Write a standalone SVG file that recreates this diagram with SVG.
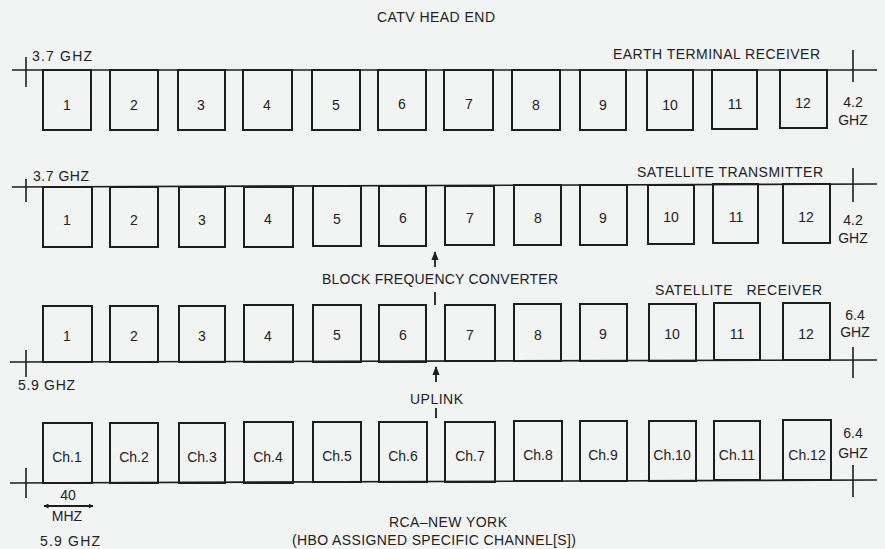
<svg xmlns="http://www.w3.org/2000/svg" width="885" height="549" viewBox="0 0 885 549">
<style>
.bg{fill:#f1f4f2}
.box{fill:none;stroke:#1e1e1e;stroke-width:2}
.ax{stroke:#1e1e1e;stroke-width:1.6;fill:none}
.t{font-family:"Liberation Sans",Arial,sans-serif;font-size:14px;fill:#222}
.c{text-anchor:middle}
.arr{stroke:#1e1e1e;stroke-width:1.8;fill:none}
</style>
<defs>
<marker id="ah" viewBox="0 0 10 10" refX="9" refY="5" markerWidth="5" markerHeight="5" orient="auto-start-reverse" markerUnits="userSpaceOnUse">
<path d="M0,0 L10,5 L0,10 z" fill="#1e1e1e"/>
</marker>
<marker id="ah2" viewBox="0 0 10 10" refX="9" refY="5" markerWidth="9" markerHeight="9" orient="auto-start-reverse" markerUnits="userSpaceOnUse">
<path d="M0,1 L10,5 L0,9 z" fill="#1e1e1e"/>
</marker>
</defs>
<rect class="bg" x="0" y="0" width="885" height="549"/>

<g id="titles">
<text class="t c" x="436" y="22" textLength="118" lengthAdjust="spacing">CATV HEAD END</text>
<text class="t" x="613" y="59" textLength="207" lengthAdjust="spacing">EARTH TERMINAL RECEIVER</text>
<text class="t" x="637" y="177" textLength="186" lengthAdjust="spacing">SATELLITE TRANSMITTER</text>
<text class="t" x="655" y="295" textLength="167" lengthAdjust="spacing" xml:space="preserve">SATELLITE   RECEIVER</text>
<text class="t" x="322" y="284" textLength="236" lengthAdjust="spacing">BLOCK FREQUENCY CONVERTER</text>
<text class="t" x="410" y="404" textLength="53" lengthAdjust="spacing">UPLINK</text>
<text class="t c" x="448" y="527" textLength="118" lengthAdjust="spacing">RCA–NEW YORK</text>
<text class="t c" x="434" y="545" textLength="284" lengthAdjust="spacing">(HBO ASSIGNED SPECIFIC CHANNEL[S])</text>
</g>

<g id="freq-labels">
<text class="t" x="32" y="61" textLength="60" lengthAdjust="spacing">3.7 GHZ</text>
<text class="t" x="33" y="181" textLength="56" lengthAdjust="spacing">3.7 GHZ</text>
<text class="t" x="18" y="390" textLength="57" lengthAdjust="spacing">5.9 GHZ</text>
<text class="t" x="40" y="546" textLength="60" lengthAdjust="spacing">5.9 GHZ</text>
<text class="t c" x="853" y="107">4.2</text>
<text class="t c" x="853" y="125">GHZ</text>
<text class="t c" x="853" y="225">4.2</text>
<text class="t c" x="853" y="243">GHZ</text>
<text class="t c" x="855" y="320">6.4</text>
<text class="t c" x="855" y="337">GHZ</text>
<text class="t c" x="853" y="438">6.4</text>
<text class="t c" x="853" y="458">GHZ</text>
<text class="t c" x="68" y="500">40</text>
<text class="t c" x="67" y="521">MHZ</text>
</g>

<g id="axes">
<line class="ax" x1="12" y1="70" x2="877" y2="70"/>
<line class="ax" x1="26" y1="57" x2="26" y2="87"/>
<line class="ax" x1="853" y1="50" x2="853" y2="82"/>
<line class="ax" x1="12" y1="187" x2="877" y2="184"/>
<line class="ax" x1="26" y1="179" x2="26" y2="202"/>
<line class="ax" x1="853" y1="168" x2="853" y2="202"/>
<line class="ax" x1="10" y1="362" x2="877" y2="360"/>
<line class="ax" x1="26" y1="350" x2="26" y2="377"/>
<line class="ax" x1="853" y1="347" x2="853" y2="378"/>
<line class="ax" x1="10" y1="483" x2="877" y2="480"/>
<line class="ax" x1="26" y1="468" x2="26" y2="498"/>
<line class="ax" x1="853" y1="465" x2="853" y2="497"/>
</g>

<g id="row1">
<g id="r1-1"><rect class="box" x="43" y="70" width="48" height="60"/><text class="t c" x="67" y="110">1</text></g>
<g id="r1-2"><rect class="box" x="110" y="70" width="48" height="60"/><text class="t c" x="134" y="110">2</text></g>
<g id="r1-3"><rect class="box" x="178" y="70" width="47" height="60"/><text class="t c" x="201" y="110">3</text></g>
<g id="r1-4"><rect class="box" x="243" y="70" width="49" height="60"/><text class="t c" x="267" y="110">4</text></g>
<g id="r1-5"><rect class="box" x="312" y="70" width="48" height="60"/><text class="t c" x="336" y="110">5</text></g>
<g id="r1-6"><rect class="box" x="378" y="70" width="48" height="60"/><text class="t c" x="402" y="109">6</text></g>
<g id="r1-7"><rect class="box" x="444" y="70" width="49" height="60"/><text class="t c" x="469" y="109">7</text></g>
<g id="r1-8"><rect class="box" x="512" y="70" width="48" height="60"/><text class="t c" x="536" y="110">8</text></g>
<g id="r1-9"><rect class="box" x="580" y="70" width="46" height="60"/><text class="t c" x="603" y="110">9</text></g>
<g id="r1-10"><rect class="box" x="647" y="70" width="46" height="60"/><text class="t c" x="670" y="110">10</text></g>
<g id="r1-11"><rect class="box" x="712" y="70" width="45" height="59"/><text class="t c" x="735" y="109">11</text></g>
<g id="r1-12"><rect class="box" x="780" y="70" width="47" height="58"/><text class="t c" x="803" y="108">12</text></g>
</g>

<g id="row2">
<g id="r2-1"><rect class="box" x="43" y="187" width="49" height="60"/><text class="t c" x="67" y="225">1</text></g>
<g id="r2-2"><rect class="box" x="110" y="187" width="48" height="60"/><text class="t c" x="134" y="225">2</text></g>
<g id="r2-3"><rect class="box" x="179" y="187" width="46" height="60"/><text class="t c" x="202" y="225">3</text></g>
<g id="r2-4"><rect class="box" x="244" y="187" width="49" height="60"/><text class="t c" x="268" y="224">4</text></g>
<g id="r2-5"><rect class="box" x="313" y="186" width="48" height="60"/><text class="t c" x="337" y="224">5</text></g>
<g id="r2-6"><rect class="box" x="379" y="186" width="47" height="60"/><text class="t c" x="403" y="223">6</text></g>
<g id="r2-7"><rect class="box" x="445" y="186" width="49" height="59"/><text class="t c" x="470" y="223">7</text></g>
<g id="r2-8"><rect class="box" x="514" y="185" width="47" height="60"/><text class="t c" x="538" y="223">8</text></g>
<g id="r2-9"><rect class="box" x="580" y="185" width="47" height="60"/><text class="t c" x="603" y="223">9</text></g>
<g id="r2-10"><rect class="box" x="648" y="185" width="46" height="59"/><text class="t c" x="671" y="222">10</text></g>
<g id="r2-11"><rect class="box" x="713" y="184" width="45" height="59"/><text class="t c" x="736" y="222">11</text></g>
<g id="r2-12"><rect class="box" x="783" y="184" width="47" height="59"/><text class="t c" x="806" y="222">12</text></g>
</g>

<g id="row3">
<g id="r3-1"><rect class="box" x="43" y="306" width="49" height="56"/><text class="t c" x="67" y="341">1</text></g>
<g id="r3-2"><rect class="box" x="110" y="306" width="48" height="56"/><text class="t c" x="134" y="341">2</text></g>
<g id="r3-3"><rect class="box" x="179" y="306" width="46" height="56"/><text class="t c" x="202" y="341">3</text></g>
<g id="r3-4"><rect class="box" x="244" y="305" width="49" height="57"/><text class="t c" x="268" y="341">4</text></g>
<g id="r3-5"><rect class="box" x="313" y="305" width="48" height="57"/><text class="t c" x="337" y="340">5</text></g>
<g id="r3-6"><rect class="box" x="379" y="305" width="47" height="57"/><text class="t c" x="403" y="340">6</text></g>
<g id="r3-7"><rect class="box" x="445" y="305" width="50" height="56"/><text class="t c" x="470" y="340">7</text></g>
<g id="r3-8"><rect class="box" x="514" y="304" width="47" height="57"/><text class="t c" x="538" y="340">8</text></g>
<g id="r3-9"><rect class="box" x="580" y="304" width="47" height="57"/><text class="t c" x="603" y="339">9</text></g>
<g id="r3-10"><rect class="box" x="649" y="304" width="47" height="57"/><text class="t c" x="672" y="339">10</text></g>
<g id="r3-11"><rect class="box" x="714" y="303" width="46" height="57"/><text class="t c" x="737" y="339">11</text></g>
<g id="r3-12"><rect class="box" x="783" y="303" width="47" height="57"/><text class="t c" x="806" y="339">12</text></g>
</g>

<g id="row4">
<g id="r4-1"><rect class="box" x="43" y="423" width="49" height="60"/><text class="t c" x="67" y="462">Ch.1</text></g>
<g id="r4-2"><rect class="box" x="110" y="423" width="48" height="60"/><text class="t c" x="134" y="462">Ch.2</text></g>
<g id="r4-3"><rect class="box" x="179" y="423" width="46" height="60"/><text class="t c" x="202" y="462">Ch.3</text></g>
<g id="r4-4"><rect class="box" x="244" y="422" width="49" height="61"/><text class="t c" x="268" y="462">Ch.4</text></g>
<g id="r4-5"><rect class="box" x="313" y="422" width="48" height="60"/><text class="t c" x="337" y="461">Ch.5</text></g>
<g id="r4-6"><rect class="box" x="379" y="422" width="48" height="60"/><text class="t c" x="403" y="461">Ch.6</text></g>
<g id="r4-7"><rect class="box" x="445" y="422" width="50" height="60"/><text class="t c" x="470" y="461">Ch.7</text></g>
<g id="r4-8"><rect class="box" x="514" y="421" width="48" height="60"/><text class="t c" x="538" y="460">Ch.8</text></g>
<g id="r4-9"><rect class="box" x="580" y="421" width="47" height="60"/><text class="t c" x="603" y="460">Ch.9</text></g>
<g id="r4-10"><rect class="box" x="649" y="421" width="47" height="60"/><text class="t c" x="672" y="460">Ch.10</text></g>
<g id="r4-11"><rect class="box" x="714" y="421" width="46" height="59"/><text class="t c" x="737" y="460">Ch.11</text></g>
<g id="r4-12"><rect class="box" x="783" y="420" width="48" height="60"/><text class="t c" x="807" y="460">Ch.12</text></g>
</g>

<g id="connectors">
<line class="arr" x1="435" y1="267" x2="435" y2="252" marker-end="url(#ah2)"/>
<line class="arr" x1="435" y1="292" x2="435" y2="305"/>
<line class="arr" x1="436" y1="382" x2="436" y2="367" marker-end="url(#ah2)"/>
<line class="arr" x1="436" y1="408" x2="436" y2="418"/>
<line class="arr" x1="44" y1="506" x2="93" y2="506" stroke-width="1.4" marker-start="url(#ah)" marker-end="url(#ah)"/>
</g>
</svg>
